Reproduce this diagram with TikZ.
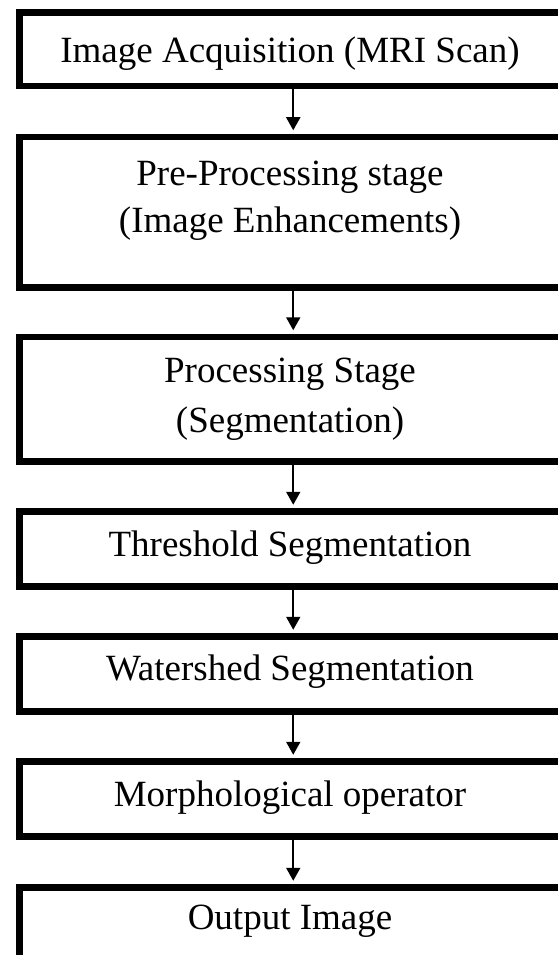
\documentclass[tikz,border=0pt]{standalone}
\usepackage{fontspec}
\setmainfont{Liberation Serif}
\usetikzlibrary{arrows.meta}
\begin{document}
\begin{tikzpicture}[x=1pt,y=-1pt,
  stagebox/.style={draw,line width=6.5pt,rectangle,inner sep=0pt,anchor=north west,minimum width=548pt},
  lbl/.style={anchor=base,font=\fontsize{37}{47}\selectfont,inner sep=0pt},
  flow/.style={line width=2pt,shorten >=3.25pt,-{Triangle[width=14pt,length=13pt]}}]
\useasboundingbox (0,0) rectangle (557,955);
\node[stagebox,minimum height=73.5pt]  (b1) at (16,9.5)  {};
\node[stagebox,minimum height=150.5pt] (b2) at (16,133.5) {};
\node[stagebox,minimum height=124.5pt] (b3) at (16,333.5) {};
\node[stagebox,minimum height=75pt]    (b4) at (16,508)  {};
\node[stagebox,minimum height=75pt]    (b5) at (16,633)  {};
\node[stagebox,minimum height=75pt]    (b6) at (16,758)  {};
\node[stagebox,minimum height=73pt]    (b7) at (16,884)  {};
\node[lbl] (t1)  at (290,63)  {Image Acquisition (MRI Scan)};
\node[lbl] (t2a) at (290,185) {Pre-Processing stage};
\node[lbl] (t2b) at (290,232) {(Image Enhancements)};
\node[lbl] (t3a) at (290,382) {Processing Stage};
\node[lbl] (t3b) at (290,432) {(Segmentation)};
\node[lbl] (t4)  at (290,556) {Threshold Segmentation};
\node[lbl] (t5)  at (290,680) {Watershed Segmentation};
\node[lbl] (t6)  at (290,806) {Morphological operator};
\node[lbl] (t7)  at (290,929) {Output Image};
\draw[flow] (b1.south) -- (b2.north);
\draw[flow] (b2.south) -- (b3.north);
\draw[flow] (b3.south) -- (b4.north);
\draw[flow] (b4.south) -- (b5.north);
\draw[flow] (b5.south) -- (b6.north);
\draw[flow] (b6.south) -- (b7.north);
\end{tikzpicture}
\end{document}
